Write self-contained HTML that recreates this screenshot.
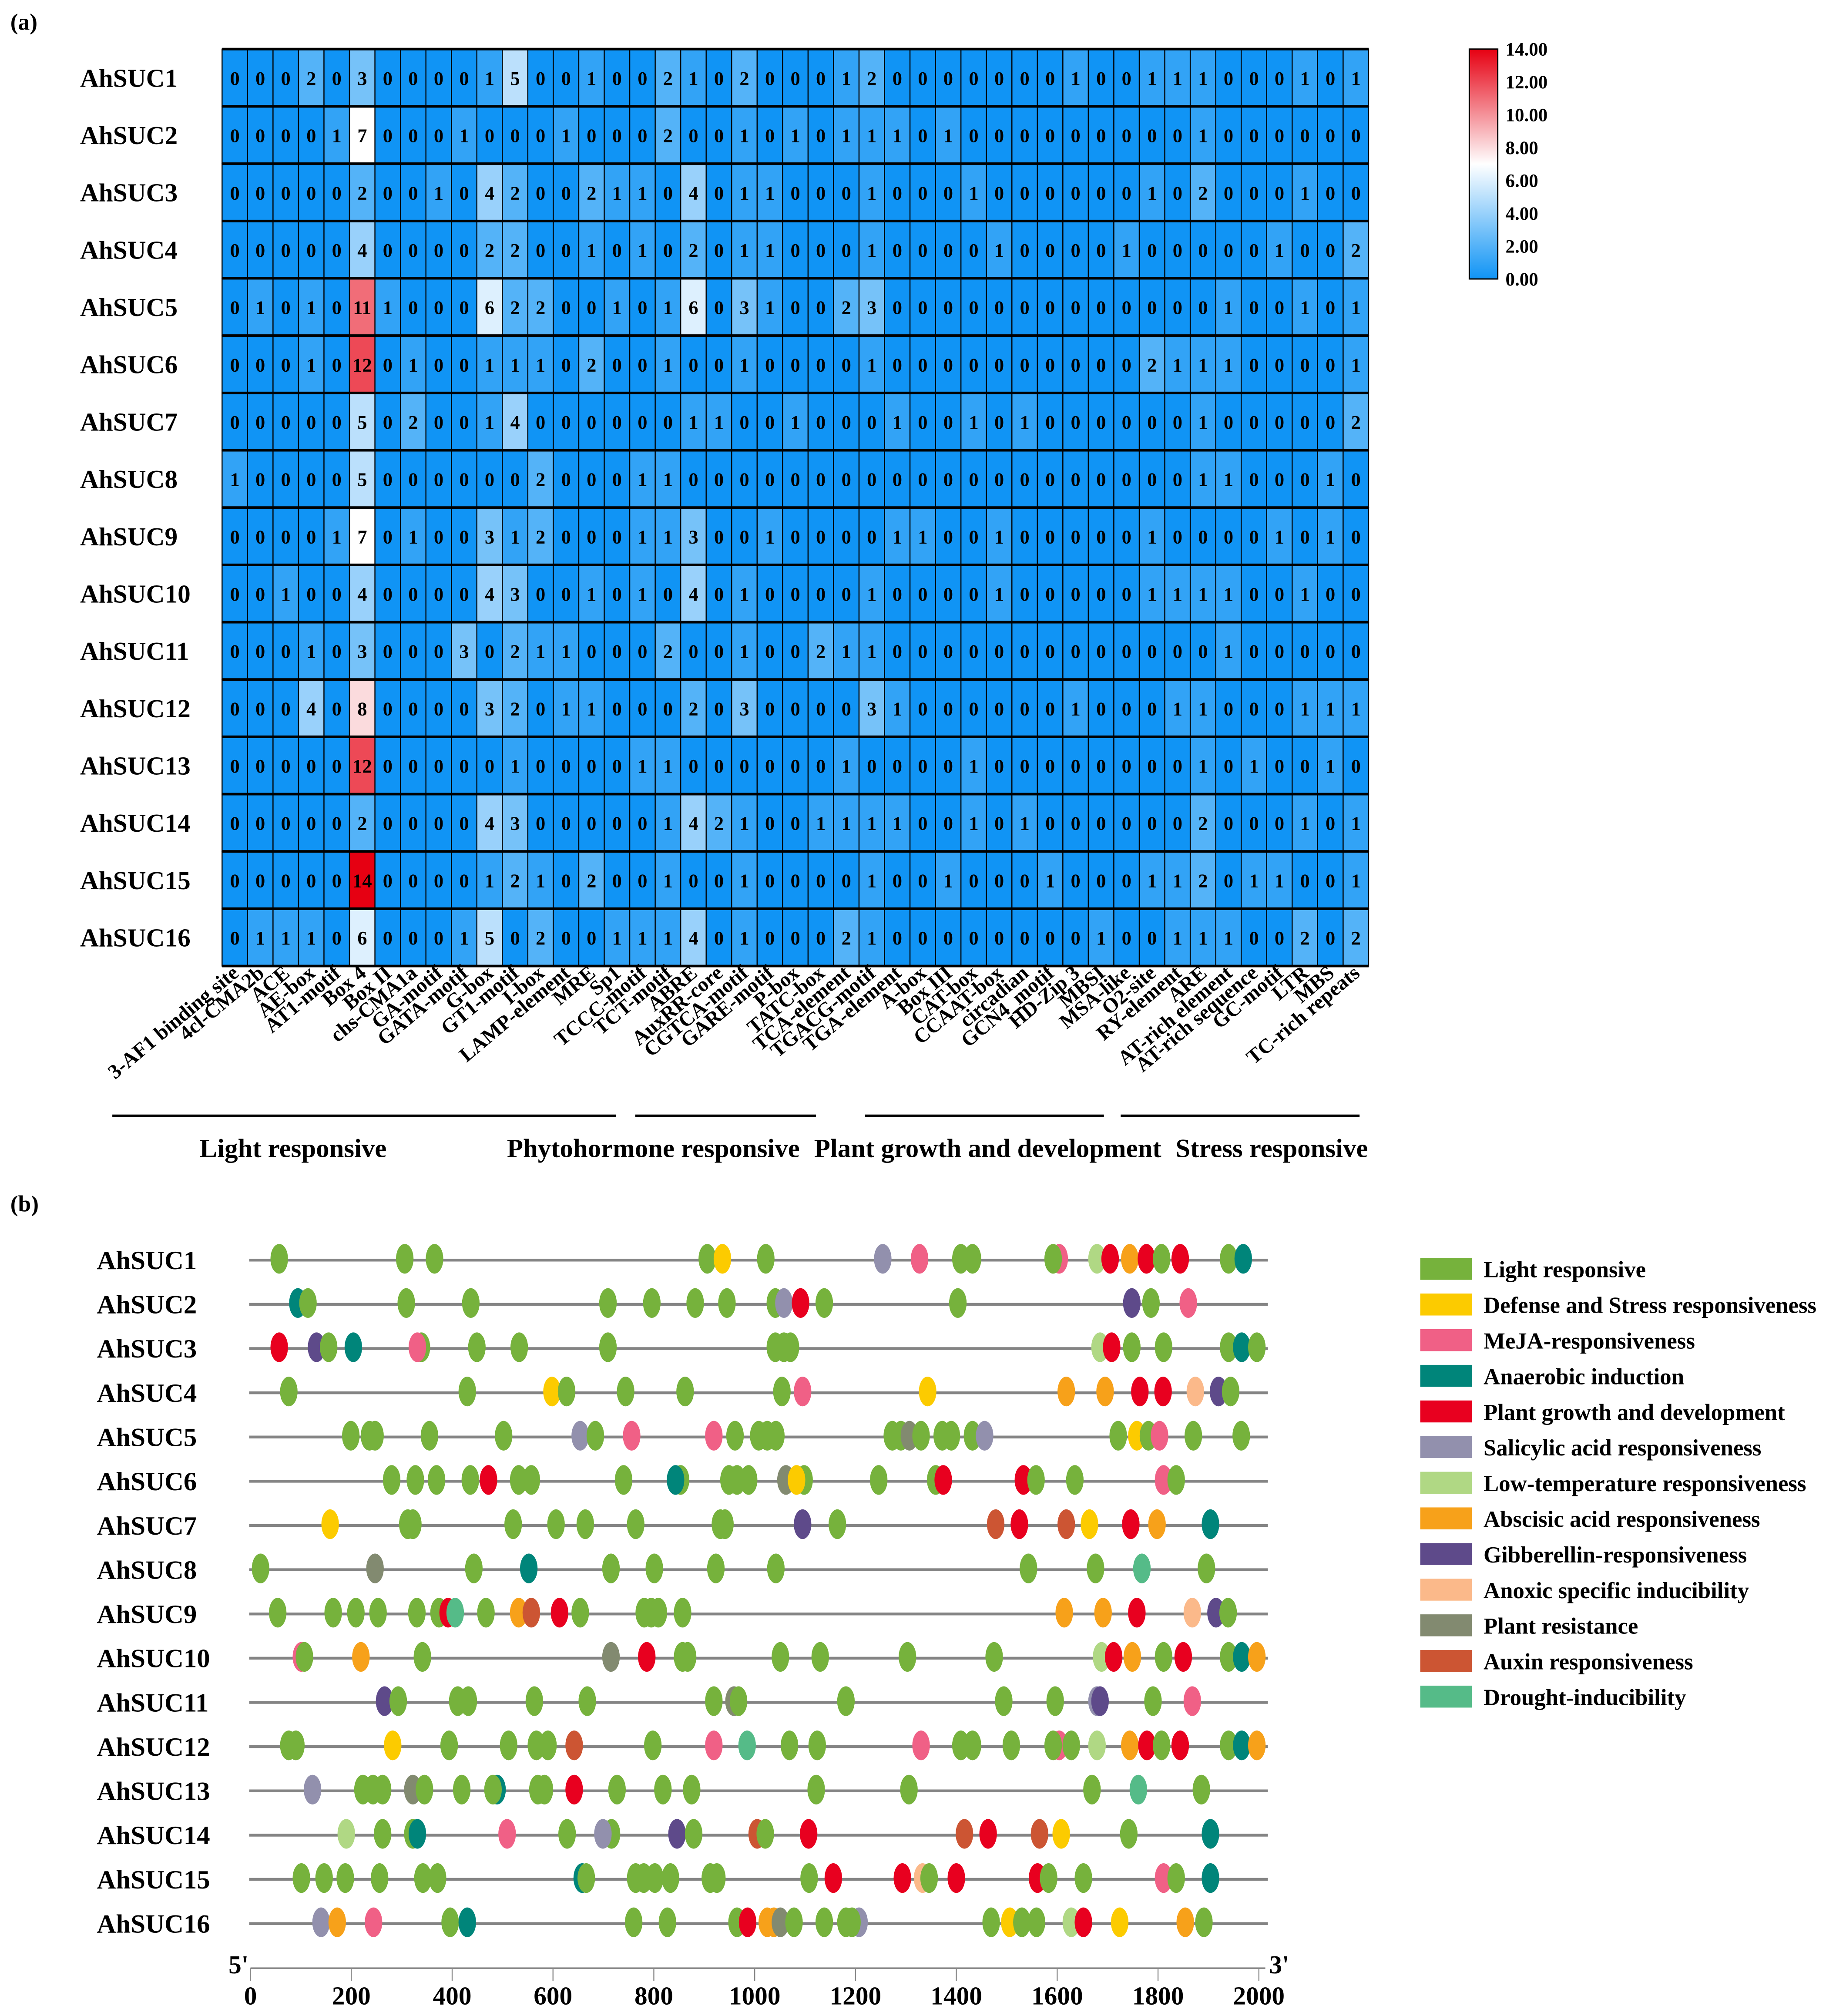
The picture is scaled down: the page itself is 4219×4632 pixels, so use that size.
<!DOCTYPE html>
<html><head><meta charset="utf-8">
<style>
html,body{margin:0;padding:0;background:#fff;}
svg{display:block;}
text{font-family:"Liberation Serif",serif;font-weight:bold;fill:#000;}
</style></head>
<body>
<svg id="fig" xmlns="http://www.w3.org/2000/svg" width="4219" height="4632" viewBox="0 0 1422 1561" preserveAspectRatio="none">
<rect x="0" y="0" width="1422" height="1561" fill="#fff"/>
<text x="8" y="23" font-size="18">(a)</text>
<text x="8" y="938" font-size="18">(b)</text>
<g id="heat"></g>
<g id="cbar"></g>
<g id="groups"></g>
<g id="motif"></g>
<g id="legendB"></g>
</svg>
<script>
const genes = ["AhSUC1","AhSUC2","AhSUC3","AhSUC4","AhSUC5","AhSUC6","AhSUC7","AhSUC8","AhSUC9","AhSUC10","AhSUC11","AhSUC12","AhSUC13","AhSUC14","AhSUC15","AhSUC16"];
const elements = ["3-AF1 binding site","4cl-CMA2b","ACE","AE-box","AT1-motif","Box 4","Box II","chs-CMA1a","GA-motif","GATA-motif","G-box","GT1-motif","I-box","LAMP-element","MRE","Sp1","TCCC-motif","TCT-motif","ABRE","AuxRR-core","CGTCA-motif","GARE-motif","P-box","TATC-box","TCA-element","TGACG-motif","TGA-element","A-box","Box III","CAT-box","CCAAT-box","circadian","GCN4_motif","HD-Zip 3","MBSI","MSA-like","O2-site","RY-element","ARE","AT-rich element","AT-rich sequence","GC-motif","LTR","MBS","TC-rich repeats"];
const counts = [
[0,0,0,2,0,3,0,0,0,0,1,5,0,0,1,0,0,2,1,0,2,0,0,0,1,2,0,0,0,0,0,0,0,1,0,0,1,1,1,0,0,0,1,0,1],
[0,0,0,0,1,7,0,0,0,1,0,0,0,1,0,0,0,2,0,0,1,0,1,0,1,1,1,0,1,0,0,0,0,0,0,0,0,0,1,0,0,0,0,0,0],
[0,0,0,0,0,2,0,0,1,0,4,2,0,0,2,1,1,0,4,0,1,1,0,0,0,1,0,0,0,1,0,0,0,0,0,0,1,0,2,0,0,0,1,0,0],
[0,0,0,0,0,4,0,0,0,0,2,2,0,0,1,0,1,0,2,0,1,1,0,0,0,1,0,0,0,0,1,0,0,0,0,1,0,0,0,0,0,1,0,0,2],
[0,1,0,1,0,11,1,0,0,0,6,2,2,0,0,1,0,1,6,0,3,1,0,0,2,3,0,0,0,0,0,0,0,0,0,0,0,0,0,1,0,0,1,0,1],
[0,0,0,1,0,12,0,1,0,0,1,1,1,0,2,0,0,1,0,0,1,0,0,0,0,1,0,0,0,0,0,0,0,0,0,0,2,1,1,1,0,0,0,0,1],
[0,0,0,0,0,5,0,2,0,0,1,4,0,0,0,0,0,0,1,1,0,0,1,0,0,0,1,0,0,1,0,1,0,0,0,0,0,0,1,0,0,0,0,0,2],
[1,0,0,0,0,5,0,0,0,0,0,0,2,0,0,0,1,1,0,0,0,0,0,0,0,0,0,0,0,0,0,0,0,0,0,0,0,0,1,1,0,0,0,1,0],
[0,0,0,0,1,7,0,1,0,0,3,1,2,0,0,0,1,1,3,0,0,1,0,0,0,0,1,1,0,0,1,0,0,0,0,0,1,0,0,0,0,1,0,1,0],
[0,0,1,0,0,4,0,0,0,0,4,3,0,0,1,0,1,0,4,0,1,0,0,0,0,1,0,0,0,0,1,0,0,0,0,0,1,1,1,1,0,0,1,0,0],
[0,0,0,1,0,3,0,0,0,3,0,2,1,1,0,0,0,2,0,0,1,0,0,2,1,1,0,0,0,0,0,0,0,0,0,0,0,0,0,1,0,0,0,0,0],
[0,0,0,4,0,8,0,0,0,0,3,2,0,1,1,0,0,0,2,0,3,0,0,0,0,3,1,0,0,0,0,0,0,1,0,0,0,1,1,0,0,0,1,1,1],
[0,0,0,0,0,12,0,0,0,0,0,1,0,0,0,0,1,1,0,0,0,0,0,0,1,0,0,0,0,1,0,0,0,0,0,0,0,0,1,0,1,0,0,1,0],
[0,0,0,0,0,2,0,0,0,0,4,3,0,0,0,0,0,1,4,2,1,0,0,1,1,1,1,0,0,1,0,1,0,0,0,0,0,0,2,0,0,0,1,0,1],
[0,0,0,0,0,14,0,0,0,0,1,2,1,0,2,0,0,1,0,0,1,0,0,0,0,1,0,0,1,0,0,0,1,0,0,0,1,1,2,0,1,1,0,0,1],
[0,1,1,1,0,6,0,0,0,1,5,0,2,0,0,1,1,1,4,0,1,0,0,0,2,1,0,0,0,0,0,0,0,0,1,0,0,1,1,1,0,0,2,0,2]
];
const scaleTicks = ["14.00","12.00","10.00","8.00","6.00","4.00","2.00","0.00"];
const scaleMax = 14;
const groupNames = ["Light responsive","Phytohormone responsive","Plant growth and development","Stress responsive"];

// ---- panel (b) data ----
const bpTicks = [0,200,400,600,800,1000,1200,1400,1600,1800,2000];
const categories = ["Light responsive","Defense and Stress responsiveness","MeJA-responsiveness","Anaerobic induction","Plant growth and development","Salicylic acid responsiveness","Low-temperature responsiveness","Abscisic acid responsiveness","Gibberellin-responsiveness","Anoxic specific inducibility","Plant resistance","Auxin responsiveness","Drought-inducibility"];
const catCodes = ["G","Y","P","T","R","S","L","O","U","A","K","B","D"];
const siteCodes = [
"G G G G Y G S P G G P G L R O R G R G T",
"T G G G G G G G G S R G G U G P",
"R U G T G P G G G G G G L R G G G T G",
"G G Y G G G G P Y O O R R A U G",
"G G G G G S G P P G G G G G G K G G G G S G Y G P G G",
"G G G G R G G G G T G G G K G Y G G R R G G P G",
"Y G G G G G G G G U G B R B Y R O T",
"G K G T G G G G G G D G",
"G G G G G G R D G O B R G G G G G O O R A U G",
"P G O G K R G G G G G G L R O G R G T O",
"U G G G G G G K G G G G S U G P",
"G G Y G G G G B G P D G G P G G G P G G L O R G R G T O",
"S G G G K G G T G G G R G G G G G G D G",
"L G G T P G G S U G B G R B R B Y G T",
"G G G G G G T G G G G G G G G R R A G R R G G P G T",
"S O P G T G G G R O O K G G G S G G Y G G L R Y O G"
];
const sitePos = [
[57,306,365,906,936,1022,1254,1327,1409,1432,1604,1592,1679,1705,1744,1777,1807,1844,1940,1969],
[94,114,309,437,709,796,882,945,1041,1058,1091,1138,1403,1748,1786,1860],
[57,131,155,204,339,331,449,533,709,1041,1058,1071,1685,1708,1748,1811,1940,1966,1996],
[76,430,598,627,744,862,1054,1095,1343,1618,1695,1764,1810,1874,1920,1944],
[199,236,247,355,502,654,684,756,919,961,1008,1025,1042,1273,1290,1307,1330,1372,1390,1432,1456,1721,1758,1781,1803,1870,1965],
[280,327,369,436,472,532,557,740,853,843,949,965,988,1062,1098,1083,1246,1359,1374,1533,1558,1635,1811,1836],
[158,312,322,521,606,664,764,932,941,1095,1164,1478,1525,1618,1664,1746,1798,1904],
[20,247,443,552,715,801,923,1042,1543,1676,1768,1896],
[54,164,209,253,330,374,392,406,467,532,557,613,654,781,795,809,857,1614,1691,1758,1868,1915,1939],
[101,107,219,341,715,786,857,867,1051,1130,1303,1475,1688,1712,1749,1811,1850,1940,1966,1996],
[266,293,411,432,563,668,919,959,968,1181,1494,1596,1679,1685,1790,1868],
[76,90,282,394,512,567,590,642,798,919,985,1069,1124,1330,1409,1432,1509,1604,1592,1628,1679,1744,1778,1807,1844,1940,1966,1996],
[123,223,243,262,322,345,419,489,481,570,583,642,727,818,875,1122,1306,1669,1761,1886],
[190,262,322,331,509,628,716,699,846,879,1005,1021,1107,1416,1463,1565,1608,1742,1904],
[101,146,188,256,342,371,658,666,764,780,802,833,912,925,1108,1156,1293,1333,1346,1400,1561,1583,1652,1811,1836,1904],
[140,172,244,396,430,760,827,965,986,1025,1038,1051,1078,1138,1181,1207,1193,1469,1506,1530,1559,1628,1652,1724,1854,1891]
];

const NS = "http://www.w3.org/2000/svg";
function mk(tag, attrs, parent){const e=document.createElementNS(NS,tag);for(const k in attrs)e.setAttribute(k,attrs[k]);parent.appendChild(e);return e;}

// ---------- heatmap ----------
const HX0=172, HX1=1060, HY0=38, HY1=748;
const cw=(HX1-HX0)/elements.length, ch=(HY1-HY0)/genes.length;
function colX(i){return HX0+i*cw;}
function rowY(j){return HY0+j*ch;}
function heatColor(v){
  const t=v/scaleMax;
  const blue=[16,148,245], white=[255,255,255], red=[230,0,18];
  let a,b,f;
  if(t<=0.5){a=blue;b=white;f=t/0.5;}else{a=white;b=red;f=(t-0.5)/0.5;}
  const c=a.map((x,k)=>Math.round(x+(b[k]-x)*f));
  return "rgb("+c.join(",")+")";
}
const heat=document.getElementById("heat");
genes.forEach((g,j)=>{
  const lab=mk("text",{x:62,y:rowY(j)+ch/2+7,"font-size":20},heat);
  lab.textContent=g;
  
  
  counts[j].forEach((v,i)=>{
    const r=mk("rect",{x:colX(i),y:rowY(j),width:cw,height:ch,fill:heatColor(v),stroke:"#000","stroke-width":0.8},heat);
    
    
    const t=mk("text",{x:colX(i)+cw/2,y:rowY(j)+ch/2+5.5,"font-size":15,"text-anchor":"middle"},heat);
    t.textContent=v;
    
    
  });
});
for(let j=0;j<=genes.length;j++){
  const l=mk("line",{x1:HX0,x2:HX1,y1:rowY(j),y2:rowY(j),stroke:"#000","stroke-width":2},heat);
  
  
}
elements.forEach((e,i)=>{
  const cx=colX(i)+cw/2+4, cy=755;
  const t=mk("text",{x:cx,y:cy,"font-size":16,"text-anchor":"end",transform:"rotate(-40 "+cx+" "+cy+")"},heat);
  t.textContent=e;
  
  
});

// ---------- color bar ----------
const cbar=document.getElementById("cbar");
const defs=mk("defs",{},cbar);
const grad=mk("linearGradient",{id:"cg",x1:0,y1:0,x2:0,y2:1},defs);
mk("stop",{offset:"0","stop-color":heatColor(14)},grad);
mk("stop",{offset:"0.5","stop-color":heatColor(7)},grad);
mk("stop",{offset:"1","stop-color":heatColor(0)},grad);
const CB0=38, CB1=216;
const cb=mk("rect",{x:1138,y:CB0,width:22,height:CB1-CB0,fill:"url(#cg)",stroke:"#000","stroke-width":1},cbar);


scaleTicks.forEach((s,k)=>{
  const y=CB0+k*(CB1-CB0)/(scaleTicks.length-1);
  const t=mk("text",{x:1166,y:y+5,"font-size":14.5,"font-weight":"normal"},cbar);
  t.textContent=s;
  
  
});

// ---------- groups ----------
const groupsG=document.getElementById("groups");
const gLines=[[87,477],[492,632],[670,855],[868,1053]];
const gLabelX=[227,506,765,985];
groupNames.forEach((n,k)=>{
  const l=mk("line",{x1:gLines[k][0],x2:gLines[k][1],y1:864,y2:864,stroke:"#000","stroke-width":2},groupsG);
  
  
  const t=mk("text",{x:gLabelX[k],y:896,"font-size":20.5,"text-anchor":"middle"},groupsG);
  t.textContent=n;
  
  
});

// ---------- motif map ----------
const colorMap={G:"#76b23c",Y:"#fccb00",P:"#f06086",T:"#00857a",R:"#e8001f",S:"#9290ad",L:"#b0d884",O:"#f7a11a",U:"#5e4a8a",A:"#fbb98a",K:"#828a70",B:"#cc5533",D:"#55bb88"};
const BX0=194, BX1=975, BY0=975.7, BDY=34.25;
function bpX(bp){return BX0+(bp/2000)*(BX1-BX0);}
const motif=document.getElementById("motif");
genes.forEach((g,j)=>{
  const y=BY0+j*BDY;
  const lab=mk("text",{x:75,y:y+7,"font-size":20.5},motif);
  lab.textContent=g;
  
  
  const ln=mk("line",{x1:193,x2:982,y1:y,y2:y,stroke:"#848484","stroke-width":2.2},motif);
  
  
  const codes=siteCodes[j].split(" ");
  sitePos[j].forEach((p,k)=>{
    const e=mk("ellipse",{cx:bpX(p),cy:y-1,rx:6.8,ry:11.5,fill:colorMap[codes[k]]},motif);
    
    
  });
});
const axY=1524;
const ax=mk("line",{x1:BX0,x2:BX1+5,y1:axY,y2:axY,stroke:"#888","stroke-width":1.2},motif);


bpTicks.forEach(v=>{
  const x=bpX(v);
  const tk=mk("line",{x1:x,x2:x,y1:axY,y2:axY+10,stroke:"#888","stroke-width":0.8},motif);
  
  
  const t=mk("text",{x:x,y:1552,"font-size":20,"font-weight":"normal","text-anchor":"middle"},motif);
  t.textContent=v;
  
  
});
const p5=mk("text",{x:177,y:1528,"font-size":20,"font-weight":"normal"},motif);
p5.textContent="5'";


const p3=mk("text",{x:983,y:1528,"font-size":20,"font-weight":"normal"},motif);
p3.textContent="3'";



// ---------- legend b ----------
const lg=document.getElementById("legendB");
categories.forEach((c,k)=>{
  const y=974+k*27.6;
  const r=mk("rect",{x:1100,y:y,width:40,height:17,fill:colorMap[catCodes[k]]},lg);
  
  
  const t=mk("text",{x:1149,y:y+15,"font-size":17.8},lg);
  t.textContent=c;
  
  
});
</script>
</body></html>
